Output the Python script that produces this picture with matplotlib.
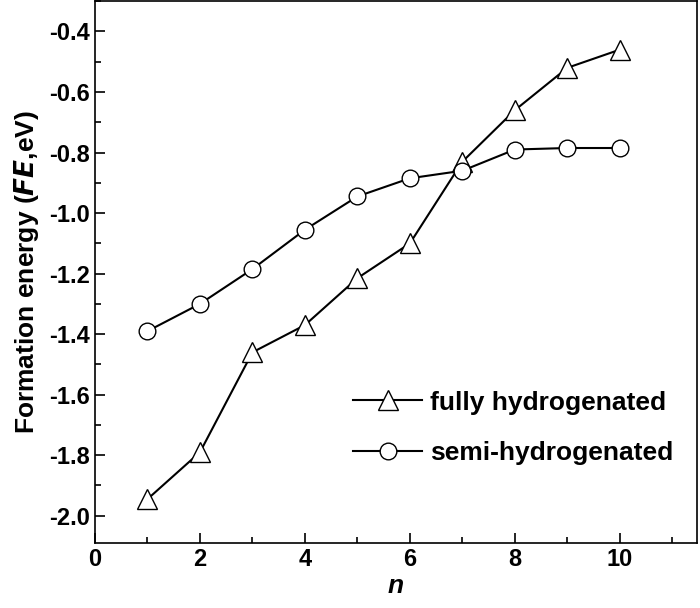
import matplotlib
matplotlib.use("Agg")
import matplotlib.pyplot as plt
from matplotlib.ticker import MultipleLocator

n = [1, 2, 3, 4, 5, 6, 7, 8, 9, 10]
fully = [-1.945, -1.79, -1.46, -1.37, -1.215, -1.10, -0.83, -0.66, -0.52, -0.46]
semi = [-1.39, -1.30, -1.185, -1.055, -0.945, -0.885, -0.86, -0.79, -0.785, -0.785]

plt.rcParams['font.family'] = ['Liberation Sans', 'DejaVu Sans']
plt.rcParams['font.weight'] = 'bold'
fig = plt.figure(figsize=(7, 6.08), dpi=100)
ax = fig.add_axes([95/700, 1-543/608, 602/700, 543/608 - 0.002])
ax.plot(n, fully, '-^', color='black', mfc='white', ms=14, lw=1.5, label='fully hydrogenated')
ax.plot(n, semi, '-o', color='black', mfc='white', ms=12, lw=1.5, label='semi-hydrogenated')
ax.xaxis.set_major_locator(MultipleLocator(2))
ax.xaxis.set_minor_locator(MultipleLocator(1))
ax.yaxis.set_major_locator(MultipleLocator(0.2))
ax.yaxis.set_minor_locator(MultipleLocator(0.1))
ax.tick_params(which='both', direction='in', labelsize=17, width=1.2)
ax.tick_params(which='major', length=7)
ax.tick_params(which='minor', length=4)
ax.set_ylim(-2.09, -0.30)
ax.set_yticks(ax.get_yticks())
ax.set_yticklabels([f"{t:.1f}" for t in ax.get_yticks()])
ax.set_xlim(0, 11.47)
ax.set_ylim(-2.09, -0.30)
for s in ax.spines.values():
    s.set_linewidth(1.2)
ax.set_xlabel('n', fontsize=19, style='italic', fontweight='bold', labelpad=2)
ax.set_ylabel('Formation energy ($\\bf{\\it{FE}}$,eV)', fontsize=19, fontweight='bold', labelpad=6)
ax.legend(loc='lower right', bbox_to_anchor=(1.0, 0.1), frameon=False, fontsize=19,
          handlelength=2.6, handletextpad=0.3, labelspacing=1.0)
fig.savefig('out.png', dpi=100)
